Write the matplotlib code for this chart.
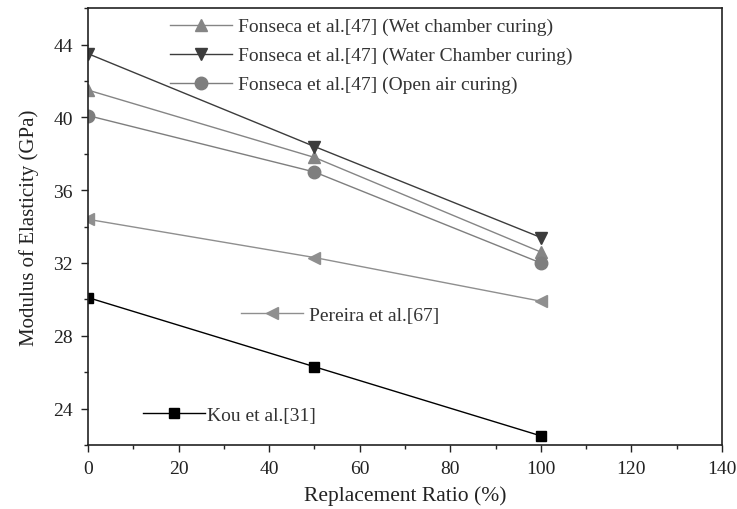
import matplotlib
matplotlib.use('Agg')
import matplotlib.pyplot as plt
from matplotlib.ticker import MultipleLocator

plt.rcParams['font.family'] = ['Liberation Serif', 'DejaVu Serif']

# data
ratio = [0, 50, 100]
wet_chamber = [41.5, 37.8, 32.6]
water_chamber = [43.5, 38.4, 33.4]
open_air = [40.1, 37.0, 32.0]
pereira = [34.4, 32.3, 29.9]
kou = [30.1, 26.3, 22.5]

labels_top = ['Fonseca et al.[47] (Wet chamber curing)',
              'Fonseca et al.[47] (Water Chamber curing)',
              'Fonseca et al.[47] (Open air curing)']
label_pereira = 'Pereira et al.[67]'
label_kou = 'Kou et al.[31]'

fig = plt.figure(figsize=(7.37, 5.10), dpi=100)
ax = fig.add_axes([0.1194, 0.1255, 0.8603, 0.8565])

lw = 1.0
ms = 9
l1, = ax.plot(ratio, wet_chamber, color='#858585', marker='^', ms=ms, lw=lw)
l2, = ax.plot(ratio, water_chamber, color='#3c3c3c', marker='v', ms=ms, lw=lw)
l3, = ax.plot(ratio, open_air, color='#7e7e7e', marker='o', ms=ms, lw=lw)
l4, = ax.plot(ratio, pereira, color='#8f8f8f', marker='<', ms=ms, lw=lw)
l5, = ax.plot(ratio, kou, color='black', marker='s', ms=7.5, lw=lw)

ax.set_xlim(0, 140)
ax.set_ylim(22, 46)
ax.xaxis.set_major_locator(MultipleLocator(20))
ax.xaxis.set_minor_locator(MultipleLocator(10))
ax.yaxis.set_major_locator(MultipleLocator(4))
ax.yaxis.set_minor_locator(MultipleLocator(2))
ax.tick_params(which='both', direction='out', labelsize=14, colors='#222222')
ax.tick_params(which='major', length=5, width=1, pad=6)
ax.tick_params(which='minor', length=3, width=1)
for s in ax.spines.values():
    s.set_linewidth(1.2)
    s.set_color('#222222')

ax.set_xlabel('Replacement Ratio (%)', fontsize=15.5, color='#222222', labelpad=6)
ax.set_ylabel('Modulus of Elasticity (GPa)', fontsize=15, color='#222222', labelpad=10)

fs = 14
leg1 = ax.legend([l1, l2, l3], labels_top, loc='upper left',
                 bbox_to_anchor=(0.101, 1.018), frameon=False, fontsize=fs,
                 handlelength=3.2, handletextpad=0.3, labelspacing=0.58,
                 labelcolor='#333333')
ax.add_artist(leg1)
leg2 = ax.legend([l4], [label_pereira], loc='center left',
                 bbox_to_anchor=(0.2137, 0.297), frameon=False, fontsize=fs,
                 handlelength=3.2, handletextpad=0.3, labelcolor='#333333')
ax.add_artist(leg2)
ax.legend([l5], [label_kou], loc='center left',
          bbox_to_anchor=(0.059, 0.069), frameon=False, fontsize=fs,
          handlelength=3.2, handletextpad=0.1, labelcolor='#333333')

fig.savefig('out.png', dpi=100)
